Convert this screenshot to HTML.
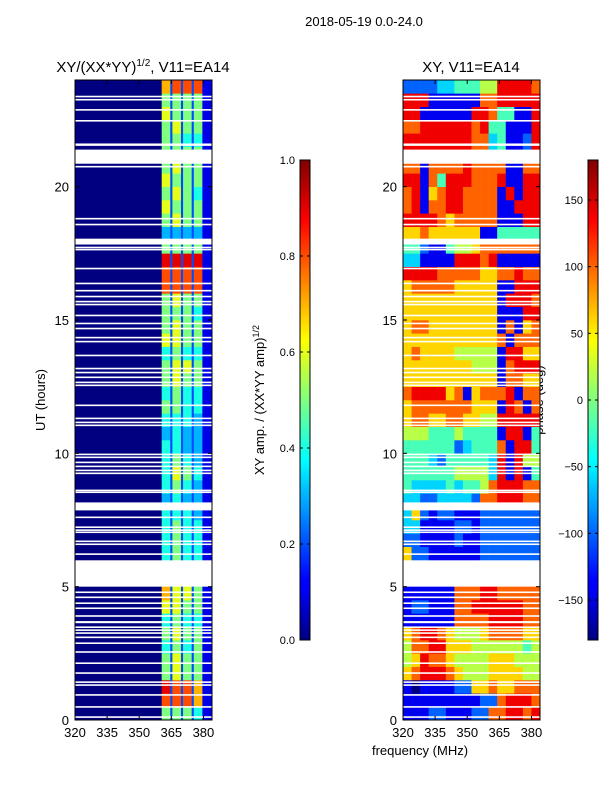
<!DOCTYPE html>
<html><head><meta charset="utf-8"><style>
body{margin:0;background:#fff;width:600px;height:800px;overflow:hidden;font-family:"Liberation Sans",sans-serif}
svg text{font-family:"Liberation Sans","DejaVu Sans",sans-serif;fill:#000}
</style></head><body>
<svg id="c" width="600" height="800" xmlns="http://www.w3.org/2000/svg">
<defs>
<linearGradient id="jet" x1="0" y1="1" x2="0" y2="0">
<stop offset="0" stop-color="#000080"/><stop offset="0.11" stop-color="#0000ff"/><stop offset="0.125" stop-color="#0000ff"/>
<stop offset="0.375" stop-color="#00ffff"/><stop offset="0.5" stop-color="#80ff80"/><stop offset="0.625" stop-color="#ffff00"/>
<stop offset="0.875" stop-color="#ff0000"/><stop offset="1" stop-color="#800000"/>
</linearGradient>
</defs>
<text x="364" y="26" font-size="13" text-anchor="middle">2018-05-19 0.0-24.0</text>
<text x="143" y="72" font-size="15" text-anchor="middle">XY/(XX*YY)<tspan font-size="10" dy="-6">1/2</tspan><tspan dy="6">, V11=EA14</tspan></text>
<text x="471" y="72" font-size="15" text-anchor="middle">XY, V11=EA14</text>
<text transform="translate(45,400) rotate(-90)" font-size="13" text-anchor="middle">UT (hours)</text>
<text x="420" y="755" font-size="13" text-anchor="middle">frequency (MHz)</text>
<text transform="translate(264,400) rotate(-90)" font-size="13" text-anchor="middle">XY amp. / (XX*YY amp)<tspan font-size="9" dy="-5">1/2</tspan></text>
<text transform="translate(543,400) rotate(-90)" font-size="13" text-anchor="middle">phase (deg)</text>
<g id="left"></g>
<g id="right"></g>
<g id="axes"></g>
</svg>
<script>
const freqRange=[320,384];
const timeRange=[0,24];
const xTickLabels=[320,335,350,365,380];
const yTickLabels=[0,5,10,15,20];
const ampTicks=[0.0,0.2,0.4,0.6,0.8,1.0];
const phaseTicks=[-150,-100,-50,0,50,100,150];
const leftFreqEdges=[320,360.5,364.5,365.5,369.5,370.5,374.5,375.5,379.5,384];
const leftRows=[
"052525241","082828271","092828271","052625251","052625251","042524251","052625251","042524241","062625251","072626251",
"","","042524241","042524241","042524241","042424231","032423231","042524231","042625241","042524231",
"042423231","032423231","042424231","052524241","042524241","052625251","052626251","042524241","062625251","052625251",
"052525241","052625251","082828281","082828281","092929291","052525251","032323231","052625251","062525251","052625241",
"062525251","052625251","052525251","052524241","052625251","062525251","052525251","072828281"];
const rightFreqStep=4;
const rightRows=[
"1112211122778878","1111111112278887","1011112266766777","6788876555666655","5687765555666555","5778866655555545","6788765556777766","1111117777888877","1221117788888877","1111117778877777",
"","","6221111112222222","2211112112222222","3311112212222222","3621221112222222","3322333327788877","4333343445788877","4444445555381814","4443244444381855",
"4444442344471884","5554445444418814","6776677665588888","6777777766618717","7888867167778177","6666666666617766","6666666655517888","6766665555518866","6666666666671777","6776666666617167",
"6666666666611188","6666666666618887","6777776666611888","8888777776677877","3311118887811111","4421145567777777","6676666661144444","8888767777711188","7817788777711888","7816788777718188",
"8817488877781188","7717777877771177","8888888877341128","8888888877341128","7788888878441118","8811111188744118","8881111117788888","2222334445588887"];
const gapsThick=[[5.09,5.92],[7.86,8.16],[20.86,21.39],[17.83,18.05],[21.53,21.62],[3.63,3.71]];
const gapsThin=[23.38,23.26,22.88,22.47,20.75,18.80,18.58,17.72,17.64,16.93,16.37,16.1,15.88,15.69,15.58,15.17,14.87,14.68,14.34,14.19,13.67,13.18,13.03,12.85,12.66,12.55,
11.8,11.31,11.16,11.05,9.96,9.85,9.66,9.51,9.36,9.25,8.61,8.54,7.6,7.23,7.12,7.04,6.7,6.59,6.22,4.79,4.6,4.38,4.19,3.9,3.48,3.37,3.26,3.1,2.88,2.55,2.13,1.76,1.42,1.31,0.94,0.49,0.11];
const rowStep=0.5;

const NS="http://www.w3.org/2000/svg";
const svg=document.getElementById('c');
const panels={left:{x0:75,x1:212},right:{x0:403,x1:540}};
const Y0=720,Y1=80;
function xs(p,f){const P=panels[p];return P.x0+(f-freqRange[0])/(freqRange[1]-freqRange[0])*(P.x1-P.x0);}
function ys(t){return Y0-(t-timeRange[0])/(timeRange[1]-timeRange[0])*(Y0-Y1);}
function jet(v){v=Math.max(0,Math.min(1,v));
 const c=x=>Math.max(0,Math.min(1,x));
 const r=c(Math.min(4*v-1.5,-4*v+4.5)),g=c(Math.min(4*v-0.5,-4*v+3.5)),b=c(Math.min(4*v+0.5,-4*v+2.5));
 return `rgb(${Math.round(r*255)},${Math.round(g*255)},${Math.round(b*255)})`;}
function mk(tag,attrs,parent){const e=document.createElementNS(NS,tag);for(const k in attrs)e.setAttribute(k,attrs[k]);(parent||svg).appendChild(e);return e;}
const gL=document.getElementById('left'),gR=document.getElementById('right'),gA=document.getElementById('axes');
leftRows.forEach((row,i)=>{if(!row)return;const t0=i*rowStep,t1=t0+rowStep;
 for(let j=0;j<row.length;j++){const v=+row[j]/10;const x=xs('left',leftFreqEdges[j]),w=xs('left',leftFreqEdges[j+1])-x;
  const r=mk('rect',{x:x,y:ys(t1),width:w+0.3,height:ys(t0)-ys(t1)+0.3,fill:jet(v)},gL);
  
  }});
rightRows.forEach((row,i)=>{if(!row)return;const t0=i*rowStep,t1=t0+rowStep;
 for(let j=0;j<row.length;j++){const v=+row[j]/9;const f0=freqRange[0]+j*rightFreqStep;const x=xs('right',f0),w=xs('right',f0+rightFreqStep)-x;
  const r=mk('rect',{x:x,y:ys(t1),width:w+0.3,height:ys(t0)-ys(t1)+0.3,fill:jet(v)},gR);
  
  }});
['left','right'].forEach(p=>{
 const P=panels[p];
 gapsThick.forEach(g=>{const r=mk('rect',{x:P.x0,y:ys(g[1]),width:P.x1-P.x0,height:ys(g[0])-ys(g[1]),fill:'#fff'},gA);
  });
 gapsThin.forEach(t=>{const r=mk('rect',{x:P.x0,y:ys(t)-0.8,width:P.x1-P.x0,height:1.6,fill:'#fff'},gA);
  });
 const fr=mk('rect',{x:P.x0,y:Y1,width:P.x1-P.x0,height:Y0-Y1,fill:'none',stroke:'#000','stroke-width':1},gA);
 
 xTickLabels.forEach(f=>{const x=xs(p,f);
  mk('line',{x1:x,x2:x,y1:Y0,y2:Y0-4,stroke:'#000'},gA);mk('line',{x1:x,x2:x,y1:Y1,y2:Y1+4,stroke:'#000'},gA);
  const t=mk('text',{x:x,y:Y0+17,'font-size':13,'text-anchor':'middle'},gA);t.textContent=f;
  });
 yTickLabels.forEach(v=>{const y=ys(v);
  mk('line',{x1:P.x0,x2:P.x0+4,y1:y,y2:y,stroke:'#000'},gA);mk('line',{x1:P.x1,x2:P.x1-4,y1:y,y2:y,stroke:'#000'},gA);
  const t=mk('text',{x:P.x0-6,y:y+5,'font-size':13,'text-anchor':'end'},gA);t.textContent=v;
  });
});
function colorbar(x,ticks,lo,hi,name){
 const top=160,bot=640;
 const r=mk('rect',{x:x,y:top,width:10,height:bot-top,fill:'url(#jet)',stroke:'#000','stroke-width':1},gA);
 
 ticks.forEach(v=>{const y=bot-(v-lo)/(hi-lo)*(bot-top);
  mk('line',{x1:x,x2:x+3,y1:y,y2:y,stroke:'#000'},gA);mk('line',{x1:x+10,x2:x+7,y1:y,y2:y,stroke:'#000'},gA);
  const t=mk('text',{x:x-5,y:y+4,'font-size':11,'text-anchor':'end'},gA);t.textContent=(typeof v==='number'&&lo===0)?v.toFixed(1):String(v).replace('-','\u2212');
  });
}
colorbar(300,ampTicks,0,1,'amp-colorbar');
colorbar(588,phaseTicks,-180,180,'phase-colorbar');
</script>
</body></html>
